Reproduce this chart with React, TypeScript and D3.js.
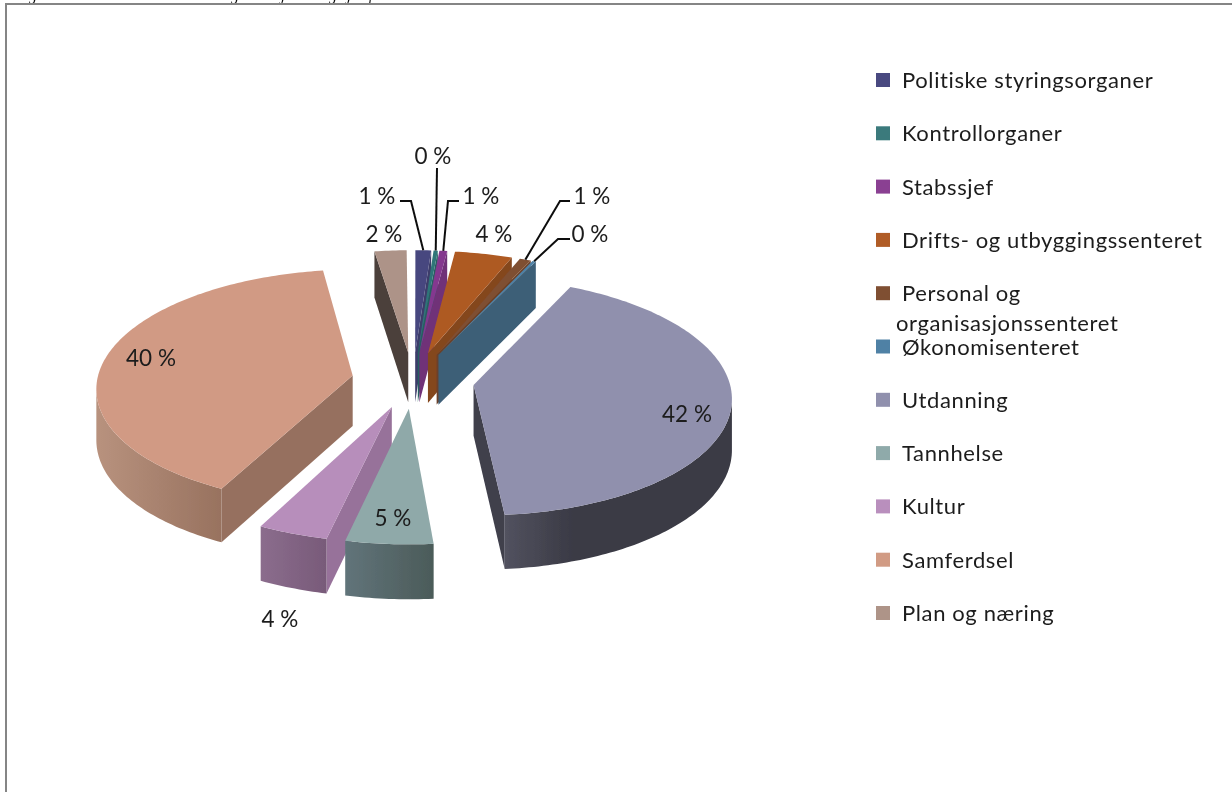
import React from "react";
import * as d3 from "d3";

const categories = ["Politiske styringsorganer","Kontrollorganer","Stabssjef","Drifts- og utbyggingssenteret","Personal og","Økonomisenteret","Utdanning","Tannhelse","Kultur","Samferdsel","Plan og næring"];
const legendSecondLine = "organisasjonssenteret";
const values = [1.1,0.3,0.55,4.05,0.8,0.25,41.53,4.9,3.95,40.15,2.25];
const valueLabels = ["1 %","0 %","1 %","4 %","1 %","0 %","42 %","5 %","4 %","40 %","2 %"];
// bottoms of the page heading's letters, cut off by the top of the picture
const headingLetters = ["g","g","j","g","j","p"];
const headingX = [29,231,281,329,347,369];

const topColors = ["#47477f","#2f7478","#84398f","#ae5a24","#7f4f33","#4f81a5","#9090ad","#8fa9a9","#b78ebb","#d19a84","#ad9388"];
const wallColors = ["#3d3d6b","#275f60","#6f3078","#84461f","#6b4029","#3c5f77","#3f3f4c","#5b6e70","#97729a","#96705f","#4b403b"];
const rimLight = ["#3d3d6b","#275f60","#6f3078","#84461f","#6b4029","#3c5f77","#52525f","#61747a","#8b6d8d","#b8927e","#4b403b"];
const rimDark = ["#3d3d6b","#275f60","#6f3078","#84461f","#6b4029","#3c5f77","#3a3a45","#4b5b59","#785a79","#98725f","#4b403b"];
const rimStop = [1,1,1,1,1,1,0.3,1,1,1,1];
const legendColors = ["#4a4a80","#3a7a7c","#8a3f92","#b05c28","#7f4f33","#4f81a5","#9090ad","#8faaaa","#b98fbd","#d19b84","#ae9488"];

// layout of labels: [centre x, baseline y]
const labelPos = [[377,203.5],[433,163.5],[481,203.5],[494,241.5],[592,203.5],[590,241.5],[687,421.5],[393,525.5],[280,626.5],[151,365.5],[384,241.5]];
// leader lines: [start x, start y, elbow x, elbow y], or null
const leaders = [[400,201,411,201],[437,168,437,168],[459,201,448,201],null,[570,201,560,201],[570,239,558,239],null,null,null,null,null];

const cx = 413, cy = 380, R = 255.5, b = 117, k = 0.095, depth = 50.5, depthK = 0.07, explode = 0.24;
const rad = Math.PI / 180;

const project = (X: number, Z: number, h = 0): [number, number] => {
  const p = 1 / (1 - k * Z);
  return [cx + R * X * p, cy + b * Z * p + h * (1 + depthK * Z)];
};
const line = d3.line<[number, number]>().x(d => d[0]).y(d => d[1]);

const pie = d3.pie<number>().sort(null).startAngle(0.1 * rad).endAngle(359.5 * rad);
const arcs = pie(values);

const slices = arcs.map((a, i) => {
  const mid = (a.startAngle + a.endAngle) / 2;
  const ox = explode * Math.sin(mid), oz = -explode * Math.cos(mid);
  const world = (t: number): [number, number] => [ox + Math.sin(t), oz - Math.cos(t)];
  const n = Math.max(2, Math.ceil((a.endAngle - a.startAngle) / (1 * rad)));
  const angles = d3.range(n + 1).map(j => a.startAngle + (a.endAngle - a.startAngle) * j / n);
  const top = angles.map(t => { const w = world(t); return project(w[0], w[1]); });
  const bot = angles.map(t => { const w = world(t); return project(w[0], w[1], depth); });
  const apexT = project(ox, oz), apexB = project(ox, oz, depth);
  const topPath = line([apexT, ...top])! + "Z";
  const walls: { d: string; fill: string }[] = [];
  // radial cut at the start of the slice
  if (top[0][0] < apexT[0] - 0.5) walls.push({ d: line([apexT, top[0], bot[0], apexB])! + "Z", fill: wallColors[i] });
  // radial cut at the end of the slice
  if (apexT[0] < top[n][0] - 0.5) walls.push({ d: line([top[n], apexT, apexB, bot[n]])! + "Z", fill: wallColors[i] });
  // outer rim
  const vis = d3.range(n).filter(j => top[j + 1][0] < top[j][0]);
  let rim: string | null = null;
  if (vis.length) {
    const from = vis[0], to = vis[vis.length - 1] + 1;
    rim = line([...top.slice(from, to + 1), ...bot.slice(from, to + 1).reverse()])! + "Z";
  }
  const key = oz - Math.cos(mid) * 0.5;
  const rimEnd = project(...world(mid));
  return { i, topPath, walls, rim, key, rimEnd };
});
const order = d3.range(slices.length).sort((p, q) => slices[p].key - slices[q].key);

const font = "Lato, 'Open Sans', sans-serif";
const legendY = d3.scaleLinear().domain([0, categories.length - 1]).range([80, 613]);

export default function App() {
  return (
    <svg width={1232} height={792} viewBox="0 0 1232 792" style={{ position: "absolute", left: 0, top: 0, background: "#fff" }}>
      <defs>
        {slices.map(s => (
          <linearGradient key={s.i} id={`rim${s.i}`} x1="0" x2="1" y1="0" y2="0">
            <stop offset="0" stopColor={rimLight[s.i]} />
            <stop offset={rimStop[s.i]} stopColor={rimDark[s.i]} />
          </linearGradient>
        ))}
        <filter id="soft" x="-2%" y="-2%" width="104%" height="104%">
          <feGaussianBlur stdDeviation="0.45" />
        </filter>
      </defs>
      <rect x={0} y={0} width={1232} height={792} fill="#fff" />
      <g filter="url(#soft)">
        {headingLetters.map((t, i) => (
          <text key={i} x={headingX[i]} y={0} fontFamily="'Liberation Serif', serif" fontStyle="italic" fontSize={16} fill="#111">{t}</text>
        ))}
        <path d="M6 793V4H1233" fill="none" stroke="#858585" strokeWidth={2} />
        {order.map(idx => {
          const s = slices[idx];
          return (
            <g key={s.i}>
              {s.walls.map((w, j) => <path key={j} d={w.d} fill={w.fill} />)}
              {s.rim && <path d={s.rim} fill={`url(#rim${s.i})`} />}
              <path d={s.topPath} fill={topColors[s.i]} />
            </g>
          );
        })}
        {leaders.map((l, i) => l && (
          <path key={i} d={line([[l[0], l[1]], [l[2], l[3]], slices[i].rimEnd])!} fill="none" stroke="#111" strokeWidth={2} />
        ))}
        {valueLabels.map((t, i) => (
          <text key={i} x={labelPos[i][0]} y={labelPos[i][1]} textAnchor="middle" fontFamily={font} fontSize={22.5} fill="#1c1c1c">{t}</text>
        ))}
        {categories.map((c, i) => (
          <g key={c}>
            <rect x={876} y={legendY(i) - 7} width={14} height={14} fill={legendColors[i]} />
            <text x={902} y={legendY(i) + 8} fontFamily={font} fontSize={22} letterSpacing={0.62} fill="#1c1c1c">{c}</text>
          </g>
        ))}
        <text x={896} y={331} fontFamily={font} fontSize={22} letterSpacing={0.62} fill="#1c1c1c">{legendSecondLine}</text>
      </g>
    </svg>
  );
}
